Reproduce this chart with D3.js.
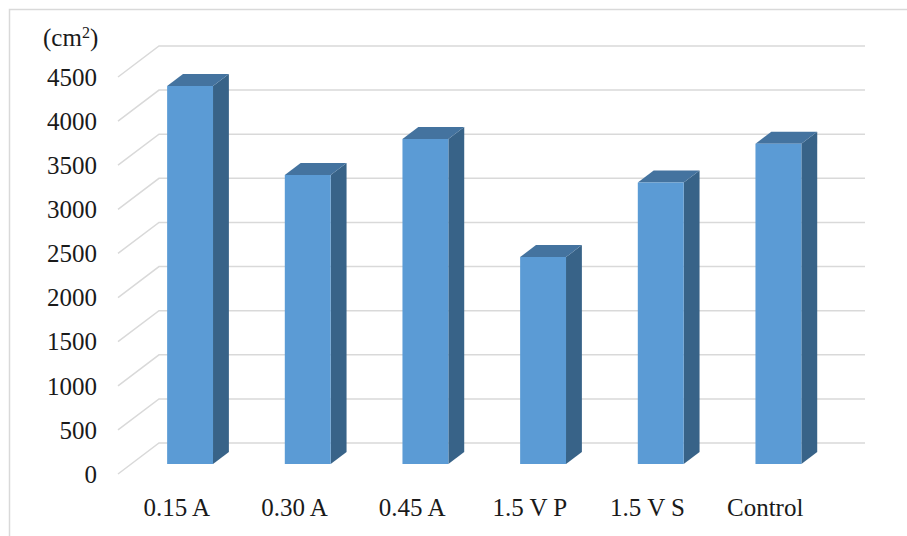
<!DOCTYPE html>
<html>
<head>
<meta charset="utf-8">
<script src="https://cdn.jsdelivr.net/npm/d3@7"></script>
<style>
  html, body { margin: 0; padding: 0; background: #fff; }
  svg { display: block; }
  text { font-family: "Liberation Serif", "Times New Roman", serif; fill: #1a1a1a; }
</style>
</head>
<body>
<svg id="chart" width="907" height="536"></svg>
<script>
// Area per treatment
const categories = ["0.15 A", "0.30 A", "0.45 A", "1.5 V P", "1.5 V S", "Control"];
const areas = [4285, 3275, 3685, 2345, 3190, 3630];
const yTicks = [0, 500, 1000, 1500, 2000, 2500, 3000, 3500, 4000, 4500];
const unitLabel = "(cm²)";

const svg = d3.select("#chart");

// Back wall of the 3D plot area, plus the oblique depth vector (back -> front)
const wall = { left: 159, right: 865, top: 46, bottom: 443 };
const depth = { dx: -41, dy: 31 };

const x = d3.scaleBand().domain(categories).range([wall.left, wall.right]);
const y = d3.scaleLinear().domain([0, 4500]).range([wall.bottom, wall.top]);

// Project a point given back-wall x, value and depth fraction t (0 = back, 1 = front)
const proj = (px, v, t) => [px + depth.dx * t, y(v) + depth.dy * t];

// Chart frame
svg.append("rect")
  .attr("x", 9.5).attr("y", 9.5)
  .attr("width", 920).attr("height", 560)
  .attr("fill", "none").attr("stroke", "#d9d9d9").attr("stroke-width", 1.5);

// Gridlines: back wall horizontals + side-wall diagonals
const grid = svg.append("g").attr("stroke", "#d9d9d9").attr("stroke-width", 1.5).attr("fill", "none");
yTicks.forEach(v => {
  const [x0, y0] = proj(wall.left, v, 0);
  const [x1, y1] = proj(wall.left, v, 1);
  const [x2, y2] = proj(wall.right, v, 0);
  grid.append("path").attr("d", `M${x1},${y1}L${x0},${y0}L${x2},${y2}`);
});

// Value tick labels, aligned with the front end of each diagonal
svg.append("g")
  .selectAll("text")
  .data(yTicks)
  .join("text")
  .attr("x", 97)
  .attr("y", d => proj(wall.left, d, 1)[1])
  .attr("dy", "0.35em")
  .attr("text-anchor", "end")
  .style("font-size", "25px")
  .text(d => d);

// Unit label with superscript
const unit = svg.append("text").attr("x", 43).attr("y", 46).style("font-size", "25px");
unit.append("tspan").text("(cm");
unit.append("tspan").text("2").attr("dy", -8).style("font-size", "16px");
unit.append("tspan").text(")").attr("dy", 8);

// 3D bars
const tFront = 0.677, tBack = 0.29;
const barFrac = 0.39;
const colors = { front: "#5b9bd5", top: "#44739f", side: "#386388" };

const bars = svg.append("g");
categories.forEach((c, i) => {
  const v = areas[i];
  const w = x.bandwidth() * barFrac;
  const xl = x(c) + (x.bandwidth() - w) / 2;
  const xr = xl + w;
  const pts = {
    flb: proj(xl, 0, tFront), frb: proj(xr, 0, tFront),
    flt: proj(xl, v, tFront), frt: proj(xr, v, tFront),
    brb: proj(xr, 0, tBack), blt: proj(xl, v, tBack), brt: proj(xr, v, tBack)
  };
  const poly = arr => "M" + arr.map(p => p.join(",")).join("L") + "Z";
  bars.append("path").attr("d", poly([pts.frb, pts.brb, pts.brt, pts.frt])).attr("fill", colors.side);
  bars.append("path").attr("d", poly([pts.flt, pts.frt, pts.brt, pts.blt])).attr("fill", colors.top);
  bars.append("path").attr("d", poly([pts.flb, pts.frb, pts.frt, pts.flt])).attr("fill", colors.front);
});

// Category labels under the front edge of the floor
svg.append("g")
  .selectAll("text")
  .data(categories)
  .join("text")
  .attr("x", d => proj(x(d) + x.bandwidth() / 2, 0, 1)[0])
  .attr("y", 507)
  .attr("dy", "0.35em")
  .attr("text-anchor", "middle")
  .style("font-size", "25px")
  .text(d => d);
</script>
</body>
</html>
